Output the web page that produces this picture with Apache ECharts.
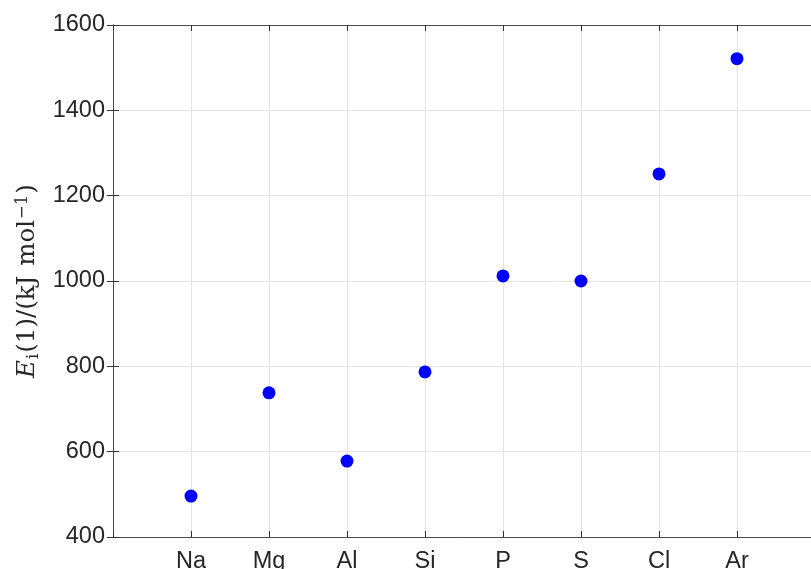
<!DOCTYPE html>
<html>
<head>
<meta charset="utf-8">
<script src="https://cdn.jsdelivr.net/npm/echarts@6/dist/echarts.min.js"></script>
<style>html,body{margin:0;padding:0;background:#fff;overflow:hidden;}#c{width:811px;height:569px;}</style>
</head>
<body>
<div id="c"></div>
<script>
var categories = ['Na','Mg','Al','Si','P','S','Cl','Ar'];
var energies = [496, 738, 578, 787, 1012, 1000, 1251, 1521];
var yTicks = [400, 600, 800, 1000, 1200, 1400, 1600];

var points = categories.map(function(c, i){ return [i + 1, energies[i]]; });
var axisColor = '#4a4a4a';
var labelFont = {color:'#262626', fontSize:23.5, fontFamily:'Liberation Sans, Arial, sans-serif'};
var serif = 'DejaVu Serif, serif';

var chart = echarts.init(document.getElementById('c'));
chart.setOption({
  animation: false,
  backgroundColor: '#ffffff',
  grid: {left: 113, top: 25, width: 702, height: 512, containLabel: false, outerBoundsMode: 'none'},
  xAxis: [{
    type: 'value', min: 0, max: 9, interval: 1, position: 'bottom',
    axisLine: {show: true, lineStyle: {color: axisColor, width: 1}},
    axisTick: {show: true, inside: true, length: 6, lineStyle: {color: '#333333'}},
    axisLabel: Object.assign({margin: 13, formatter: function(v){ return categories[v-1] || ''; }}, labelFont),
    splitLine: {show: true, lineStyle: {color: '#e3e3e3', width: 1}}
  },{
    type: 'value', min: 0, max: 9, interval: 1, position: 'top',
    axisLine: {show: true, lineStyle: {color: axisColor, width: 1}},
    axisTick: {show: true, inside: true, length: 6, lineStyle: {color: '#333333'}},
    axisLabel: {show: false}, splitLine: {show: false}
  }],
  yAxis: [{
    type: 'value', min: yTicks[0], max: yTicks[yTicks.length-1], interval: 200, position: 'left',
    axisLine: {show: true, lineStyle: {color: axisColor, width: 1}},
    axisTick: {show: true, inside: true, length: 6, lineStyle: {color: '#333333'}},
    axisLabel: Object.assign({margin: 8, formatter: function(v){ return String(v); }}, labelFont),
    splitLine: {show: true, lineStyle: {color: '#e3e3e3', width: 1}},
    name: '{it|E}{sub|i}{n|(1)/(kJ\u2009\u2009mol}{sup|−1}{n|)}',
    nameLocation: 'middle', nameRotate: 90, nameGap: 68,
    nameTextStyle: {
      rich: {
        it: {fontFamily: serif, fontStyle: 'italic', fontSize: 24.5, color: '#262626'},
        sub: {fontFamily: serif, fontSize: 16.5, color: '#262626', verticalAlign: 'bottom', padding: [10,1,0,1]},
        n: {fontFamily: serif, fontSize: 24.5, color: '#262626'},
        sup: {fontFamily: serif, fontSize: 16.5, color: '#262626', verticalAlign: 'top', padding: [0,1,11,1]}
      }
    }
  },{
    type: 'value', min: yTicks[0], max: yTicks[yTicks.length-1], interval: 200, position: 'right',
    axisLine: {show: true, lineStyle: {color: axisColor, width: 1}},
    axisTick: {show: true, inside: true, length: 6, lineStyle: {color: '#333333'}},
    axisLabel: {show: false}, splitLine: {show: false}
  }],
  series: [{
    type: 'scatter', xAxisIndex: 0, yAxisIndex: 0,
    data: points, symbol: 'circle', symbolSize: 13,
    itemStyle: {color: '#0000ff', opacity: 1}
  }]
});
</script>
</body>
</html>
